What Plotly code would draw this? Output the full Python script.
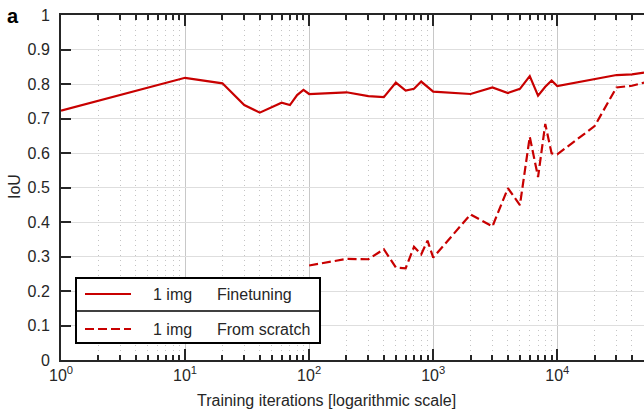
import math
import plotly.graph_objects as go

# Training iterations at which IoU was measured
iters_ft = [1, 10, 20, 30, 40, 50, 60, 70, 80, 90, 100, 200, 300, 400, 500, 600,
            700, 800, 1000, 2000, 3000, 4000, 5000, 6000, 7000, 8000, 9000,
            10000, 30000, 40000, 50000]
iou_ft = [0.723, 0.818, 0.802, 0.739, 0.717, 0.734, 0.746, 0.739, 0.768, 0.783,
          0.771, 0.776, 0.765, 0.762, 0.804, 0.781, 0.786, 0.807, 0.778, 0.771,
          0.790, 0.774, 0.786, 0.823, 0.766, 0.792, 0.810, 0.794, 0.826, 0.828,
          0.833]

iters_sc = [100, 200, 300, 400, 500, 600, 700, 800, 900, 1000, 2000, 3000, 4000,
            5000, 6000, 7000, 8000, 9000, 10000, 20000, 30000, 40000, 50000]
iou_sc = [0.274, 0.293, 0.292, 0.321, 0.268, 0.266, 0.328, 0.306, 0.346, 0.297,
          0.422, 0.387, 0.498, 0.449, 0.647, 0.530, 0.684, 0.599, 0.596, 0.678,
          0.790, 0.795, 0.804]

series_names = ["Finetuning", "From scratch"]
sample_label = "1 img"
x_title = "Training iterations [logarithmic scale]"
y_title = "IoU"
panel_tag = "a"
decades = [1, 10, 100, 1000, 10000]
decade_text = ["10<sup>%d</sup>" % int(round(math.log10(v))) for v in decades]
minor_vals = [m * d for d in decades for m in range(2, 10)]

RED = "#c80000"
INK = "#262626"
FONT = "Liberation Sans, Arial, Helvetica, sans-serif"

W, H = 644, 412
L, T, R, B = 61, 15, 644, 360


def px(x):
    return (x - L) / (R - L)


def py(y):
    return (B - y) / (B - T)


fig = go.Figure()
fig.add_trace(go.Scatter(x=iters_ft, y=iou_ft, mode="lines",
                         line=dict(color=RED, width=2.2), showlegend=False))
fig.add_trace(go.Scatter(x=iters_sc, y=iou_sc, mode="lines",
                         line=dict(color=RED, width=2.2, dash="9px,4px"),
                         showlegend=False))

fig.update_layout(
    width=W, height=H,
    margin=dict(l=L, r=W - R, t=T, b=H - B),
    paper_bgcolor="white", plot_bgcolor="white",
    font=dict(family=FONT, size=16, color=INK),
    xaxis=dict(
        type="log", range=[0, math.log10(50000)],
        tickmode="array", tickvals=decades, ticktext=decade_text,
        ticks="inside", ticklen=11, tickwidth=2, tickcolor=INK,
        showline=True, linewidth=2, linecolor=INK, mirror="ticks",
        showgrid=True, gridcolor="#c8c8c8", gridwidth=1.2,
        zeroline=False,
        minor=dict(tickmode="array", tickvals=minor_vals, ticks="inside",
                   ticklen=5, tickwidth=1.5, tickcolor=INK,
                   showgrid=True, gridcolor="#c4c4c4", gridwidth=1,
                   griddash="1px,4px"),
        tickfont=dict(size=16, color=INK),
    ),
    yaxis=dict(
        range=[0, 1], dtick=0.1, tick0=0,
        ticks="inside", ticklen=10, tickwidth=2, tickcolor=INK,
        showline=True, linewidth=2, linecolor=INK,
        showgrid=True, gridcolor="#dedede", gridwidth=1.2,
        zeroline=False, ticklabelstandoff=6,
        tickfont=dict(size=16, color=INK),
    ),
    yaxis2=dict(
        overlaying="y", side="right", range=[0, 1], dtick=0.1, tick0=0,
        ticks="inside", ticklen=10, tickwidth=2, tickcolor=INK,
        showticklabels=False, showgrid=False, showline=False, zeroline=False,
    ),
)

shapes = []
annotations = []

# Legend box with divider
shapes.append(dict(type="rect", xref="paper", yref="paper",
                   x0=px(76), x1=px(320), y0=py(343), y1=py(278),
                   fillcolor="white", line=dict(color="black", width=2),
                   layer="above"))
shapes.append(dict(type="line", xref="paper", yref="paper",
                   x0=px(76), x1=px(320), y0=py(311), y1=py(311),
                   line=dict(color="black", width=1.5), layer="above"))
rows = [(294, "solid"), (329, "9px,4px")]
for (yy, dash), name in zip(rows, series_names):
    shapes.append(dict(type="line", xref="paper", yref="paper",
                       x0=px(85), x1=px(131), y0=py(yy), y1=py(yy),
                       line=dict(color=RED, width=2.2, dash=dash),
                       layer="above"))
    annotations.append(dict(xref="paper", yref="paper", x=px(151), y=py(yy),
                            text=sample_label, showarrow=False,
                            xanchor="left", yanchor="middle",
                            font=dict(size=16, color=INK)))
    annotations.append(dict(xref="paper", yref="paper", x=px(215), y=py(yy),
                            text=name, showarrow=False,
                            xanchor="left", yanchor="middle",
                            font=dict(size=16, color=INK)))

# Axis titles and panel tag
annotations.append(dict(xref="paper", yref="paper", x=px(326), y=py(400),
                        text=x_title, showarrow=False,
                        xanchor="center", yanchor="middle",
                        font=dict(size=16, color=INK)))
annotations.append(dict(xref="paper", yref="paper", x=px(14), y=py(187),
                        text=y_title, showarrow=False, textangle=-90,
                        xanchor="center", yanchor="middle",
                        font=dict(size=16, color=INK)))
annotations.append(dict(xref="paper", yref="paper", x=px(13), y=py(16),
                        text="<b>%s</b>" % panel_tag, showarrow=False,
                        xanchor="center", yanchor="middle",
                        font=dict(size=20, color="black")))

fig.update_layout(shapes=shapes, annotations=annotations)
fig.write_html("out.html")
